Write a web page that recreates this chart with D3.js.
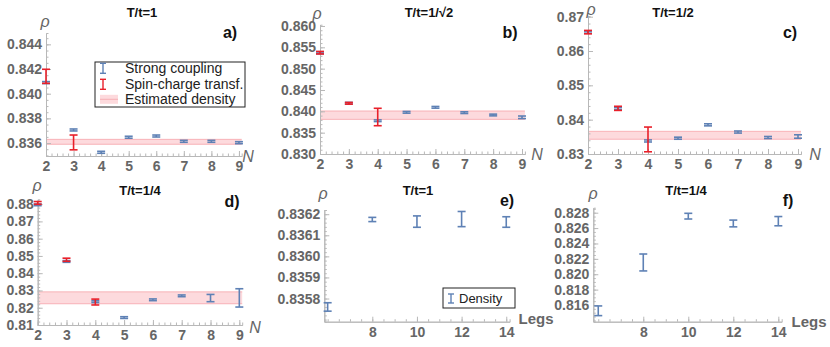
<!DOCTYPE html>
<html>
<head>
<meta charset="utf-8">
<script src="https://cdn.jsdelivr.net/npm/d3@7"></script>
<style>
body { margin: 0; background: #fff; }
svg text { font-family: "Liberation Sans", Arial, sans-serif; }
</style>
</head>
<body>
<script>
const width = 830
const height = 347

// ---- data ----
const chains = [2, 3, 4, 5, 6, 7, 8, 9]
const spinChains = [2, 3, 4]
const legs = [6, 8, 10, 12, 14]

// a) T/t=1
const strongA = [0.8409, 0.83706, 0.83525, 0.83647, 0.83657, 0.83614, 0.83614, 0.83603]
const strongErrA = [0.00008, 0.00008, 0.00008, 0.00008, 0.00008, 0.00008, 0.00008, 0.00008]
const spinA = [0.84141, 0.83605]
const spinErrA = [0.00057, 0.0006]
const bandA = [0.8361, 0.0002]

// b) T/t=1/sqrt2
const strongB = [0.8537, 0.8419, 0.8378, 0.83977, 0.84094, 0.83969, 0.83914, 0.8386]
const strongErrB = [0.0002, 0.0002, 0.0002, 0.0002, 0.0002, 0.0002, 0.0002, 0.0003]
const spinB = [0.85374, 0.84188, 0.83867]
const spinErrB = [0.0003, 0.0002, 0.00204]
const bandB = [0.8391, 0.00098]

// c) T/t=1/2
const strongC = [0.8655, 0.8432, 0.8338, 0.8346, 0.8385, 0.8364, 0.8348, 0.8351]
const strongErrC = [0.0003, 0.0003, 0.0003, 0.0003, 0.0003, 0.0003, 0.0003, 0.0005]
const spinC = [0.8655, 0.8433, 0.83425]
const spinErrC = [0.0005, 0.0006, 0.0036]
const bandC = [0.83545, 0.00115]

// d) T/t=1/4
const strongD = [0.8796, 0.8468, 0.8235, 0.8143, 0.8246, 0.8269, 0.8256, 0.8257]
const strongErrD = [0.0005, 0.0005, 0.0005, 0.0005, 0.0005, 0.0005, 0.0021, 0.0053]
const spinD = [0.8807, 0.8478, 0.8233]
const spinErrD = [0.0008, 0.0009, 0.0017]
const bandD = [0.82575, 0.00345]

// e) T/t=1, density vs legs
const densE = [0.83576, 0.836175, 0.836165, 0.836177, 0.836163]
const densErrE = [0.00002, 0.00001, 0.000027, 0.000036, 0.000025]

// f) T/t=1/4, density vs legs
const densF = [0.81525, 0.82153, 0.82755, 0.8266, 0.8269]
const densErrF = [0.00063, 0.0011, 0.00037, 0.00044, 0.0006]

// tick labels
const yTicksA = [0.836, 0.838, 0.840, 0.842, 0.844]
const yTicksB = [0.830, 0.835, 0.840, 0.845, 0.850, 0.855, 0.860]
const yTicksC = [0.83, 0.84, 0.85, 0.86, 0.87]
const yTicksD = [0.81, 0.82, 0.83, 0.84, 0.85, 0.86, 0.87, 0.88]
const yTicksE = [0.8358, 0.8359, 0.836, 0.8361, 0.8362]
const yTicksF = [0.816, 0.818, 0.82, 0.822, 0.824, 0.826, 0.828]
const legTicks = [8, 10, 12, 14]

const blue = '#5e81b5'
const red = '#e8202a'
const axisGray = '#b8b8b8'
const labelGray = '#666'

const svg = d3.select('body').append('svg').attr('width', width).attr('height', height)

// helper: minor tick positions between domain ends
function minorTicks(dom, step) {
	const lo = Math.ceil(dom[0] / step - 1e-6) * step
	return d3.range(lo, dom[1] + step * 1e-3, step)
}

function errBars(g, x, y, xs, vs, es, color, cap) {
	const pts = xs.map((n, i) => ({ n: n, v: vs[i], e: es[i] }))
	const sel = g.append('g')
		.attr('stroke', color)
		.attr('stroke-width', 1.6)
		.selectAll('g')
		.data(pts)
		.enter()
		.append('g')
	sel.append('line')
		.attr('x1', d => x(d.n)).attr('x2', d => x(d.n))
		.attr('y1', d => y(d.v - d.e)).attr('y2', d => y(d.v + d.e))
	sel.append('line')
		.attr('x1', d => x(d.n) - cap).attr('x2', d => x(d.n) + cap)
		.attr('y1', d => y(d.v + d.e)).attr('y2', d => y(d.v + d.e))
	sel.append('line')
		.attr('x1', d => x(d.n) - cap).attr('x2', d => x(d.n) + cap)
		.attr('y1', d => y(d.v - d.e)).attr('y2', d => y(d.v - d.e))
}

function drawPanel(p) {
	const g = svg.append('g')
	const x = d3.scaleLinear().domain(p.xDom).range(p.xRng)
	const y = d3.scaleLinear().domain(p.yDom).range(p.yRng)
	const x0 = p.xRng[0], x1 = p.xRng[1]
	const yBase = p.yRng[0]

	// estimated density band
	if (p.band) {
		const top = y(p.band[0] + p.band[1])
		const bot = y(p.band[0] - p.band[1])
		g.append('rect').attr('x', x0).attr('width', x1 - x0)
			.attr('y', top).attr('height', bot - top).attr('fill', '#fddadd')
		g.append('line').attr('x1', x0).attr('x2', x1).attr('y1', top).attr('y2', top)
			.attr('stroke', '#f6a3a9').attr('stroke-width', 0.8)
		g.append('line').attr('x1', x0).attr('x2', x1).attr('y1', bot).attr('y2', bot)
			.attr('stroke', '#f6a3a9').attr('stroke-width', 0.8)
	}

	// y axis (ticks point inward like Mathematica)
	const yMinorAxis = d3.axisLeft(y).tickValues(minorTicks(p.yDom, p.yMinor)).tickSize(-2.5).tickFormat('')
	const yAxis = d3.axisLeft(y).tickValues(p.yTicks).tickSizeInner(-5).tickSizeOuter(0)
		.tickPadding(4).tickFormat(d3.format(p.fmt))
	const ya = g.append('g').attr('transform', `translate(${x0},0)`)
	ya.append('g').call(yMinorAxis)
	ya.append('g').call(yAxis)

	// x axis
	const xMinorAxis = d3.axisBottom(x).tickValues(minorTicks(p.xDom, p.xMinor)).tickSize(-2.5).tickFormat('')
	const xAxis = d3.axisBottom(x).tickValues(p.xTicks).tickSizeInner(-5).tickSizeOuter(0)
		.tickPadding(5).tickFormat(d3.format('d'))
	const xa = g.append('g').attr('transform', `translate(0,${yBase})`)
	xa.append('g').call(xMinorAxis)
	xa.append('g').call(xAxis)

	g.selectAll('.domain').attr('stroke', axisGray)
	g.selectAll('.tick line').attr('stroke', axisGray)
	g.selectAll('.tick text')
		.attr('fill', labelGray)
		.style('font-size', '14px')
		.style('font-weight', 'bold')

	// marks
	if (p.strong) errBars(g, x, y, p.xs, p.strong, p.strongErr, blue, 4)
	if (p.spin) errBars(g, x, y, spinChains.slice(0, p.spin.length), p.spin, p.spinErr, red, 4)

	// labels
	g.append('text').attr('x', p.title[1]).attr('y', p.title[2])
		.attr('text-anchor', 'middle').style('font-size', '13px').style('font-weight', 'bold')
		.attr('fill', '#111').text(p.title[0])
	g.append('text').attr('x', p.tag[1]).attr('y', p.tag[2])
		.attr('text-anchor', 'middle').style('font-size', '16px').style('font-weight', 'bold')
		.attr('fill', '#111').text(p.tag[0])
	g.append('text').attr('x', p.rho[0]).attr('y', p.rho[1])
		.attr('text-anchor', 'middle').style('font-size', '16px').style('font-style', 'italic')
		.attr('fill', labelGray).text('ρ')
	g.append('text').attr('x', p.name[1]).attr('y', p.name[2])
		.attr('text-anchor', 'middle').attr('dominant-baseline', 'central')
		.style('font-size', p.name[0] === 'N' ? '16px' : '15px')
		.style('font-style', p.name[0] === 'N' ? 'italic' : 'normal')
		.style('font-weight', p.name[0] === 'N' ? 'normal' : 'bold')
		.attr('fill', labelGray).text(p.name[0])
	return { g: g, x: x, y: y }
}

const panels = [
	{ xs: chains, strong: strongA, strongErr: strongErrA, spin: spinA, spinErr: spinErrA, band: bandA,
		xDom: [2, 9.1], xRng: [46, 241.7], yDom: [0.83495, 0.84492], yRng: [156, 33],
		yTicks: yTicksA, yMinor: 0.0005, fmt: '.3f', xTicks: chains, xMinor: 0.2,
		title: ['T/t=1', 142, 17], tag: ['a)', 230, 38], rho: [45, 27], name: ['N', 248, 156] },
	{ xs: chains, strong: strongB, strongErr: strongErrB, spin: spinB, spinErr: spinErrB, band: bandB,
		xDom: [2, 9.1], xRng: [320, 524.9], yDom: [0.830, 0.8603], yRng: [154, 24.7],
		yTicks: yTicksB, yMinor: 0.001, fmt: '.3f', xTicks: chains, xMinor: 0.2,
		title: ['T/t=1/√2', 429, 17], tag: ['b)', 510, 38], rho: [317, 19], name: ['N', 537, 154] },
	{ xs: chains, strong: strongC, strongErr: strongErrC, spin: spinC, spinErr: spinErrC, band: bandC,
		xDom: [2, 9.1], xRng: [588, 801], yDom: [0.830, 0.8702], yRng: [154, 16],
		yTicks: yTicksC, yMinor: 0.002, fmt: '.2f', xTicks: chains, xMinor: 0.2,
		title: ['T/t=1/2', 673, 17], tag: ['c)', 790, 38], rho: [591, 15], name: ['N', 815, 154] },
	{ xs: chains, strong: strongD, strongErr: strongErrD, spin: spinD, spinErr: spinErrD, band: bandD,
		xDom: [2, 9.1], xRng: [37.7, 242.2], yDom: [0.810, 0.8828], yRng: [325, 199.3],
		yTicks: yTicksD, yMinor: 0.002, fmt: '.2f', xTicks: chains, xMinor: 0.2,
		title: ['T/t=1/4', 140, 195], tag: ['d)', 232, 207], rho: [37, 191], name: ['N', 255, 327] },
	{ xs: legs, strong: densE, strongErr: densErrE,
		xDom: [5.85, 14.15], xRng: [324.3, 509.6], yDom: [0.83569, 0.83622], yRng: [321.7, 210],
		yTicks: yTicksE, yMinor: 0.00002, fmt: '.4f', xTicks: legTicks, xMinor: 0.5,
		title: ['T/t=1', 418, 195], tag: ['e)', 507, 206], rho: [323, 199], name: ['Legs', 536, 318] },
	{ xs: legs, strong: densF, strongErr: densErrF,
		xDom: [5.78, 14.15], xRng: [593.3, 781.7], yDom: [0.81383, 0.82865], yRng: [321.7, 207.7],
		yTicks: yTicksF, yMinor: 0.0005, fmt: '.3f', xTicks: legTicks, xMinor: 0.5,
		title: ['T/t=1/4', 686, 195], tag: ['f)', 788, 206], rho: [593, 199], name: ['Legs', 809, 321] },
]

panels.forEach(drawPanel)

// legend in panel a
const legA = svg.append('g').attr('transform', 'translate(95,62)')
legA.append('rect').attr('width', 150).attr('height', 45).attr('fill', '#fff').attr('stroke', '#222').attr('stroke-width', 1)
const legItems = [['Strong coupling', blue, 6.3], ['Spin-charge transf.', red, 22.3], ['Estimated density', null, 37.3]]
legItems.forEach(function (it) {
	const cy = it[2]
	if (it[1]) {
		const gi = legA.append('g').attr('stroke', it[1]).attr('stroke-width', 1.4)
		gi.append('line').attr('x1', 8).attr('x2', 8).attr('y1', cy - 5).attr('y2', cy + 5)
		gi.append('line').attr('x1', 5).attr('x2', 11).attr('y1', cy - 5).attr('y2', cy - 5)
		gi.append('line').attr('x1', 5).attr('x2', 11).attr('y1', cy + 5).attr('y2', cy + 5)
	} else {
		legA.append('rect').attr('x', 5).attr('y', cy - 4.5).attr('width', 18).attr('height', 9).attr('fill', '#fddadd')
		legA.append('line').attr('x1', 5).attr('x2', 23).attr('y1', cy).attr('y2', cy).attr('stroke', '#f6a3a9').attr('stroke-width', 0.8)
	}
	legA.append('text').attr('x', 30).attr('y', cy).attr('dominant-baseline', 'central')
		.style('font-size', '14px').attr('fill', '#222').text(it[0])
})

// legend in panel e
const legE = svg.append('g').attr('transform', 'translate(443,288)')
legE.append('rect').attr('width', 72).attr('height', 20).attr('fill', '#fff').attr('stroke', '#222').attr('stroke-width', 1)
const gE = legE.append('g').attr('stroke', blue).attr('stroke-width', 1.4)
gE.append('line').attr('x1', 8).attr('x2', 8).attr('y1', 6).attr('y2', 15)
gE.append('line').attr('x1', 5).attr('x2', 11).attr('y1', 6).attr('y2', 6)
gE.append('line').attr('x1', 5).attr('x2', 11).attr('y1', 15).attr('y2', 15)
legE.append('text').attr('x', 16).attr('y', 10.5).attr('dominant-baseline', 'central')
	.style('font-size', '13px').attr('fill', '#222').text('Density')
</script>
</body>
</html>
